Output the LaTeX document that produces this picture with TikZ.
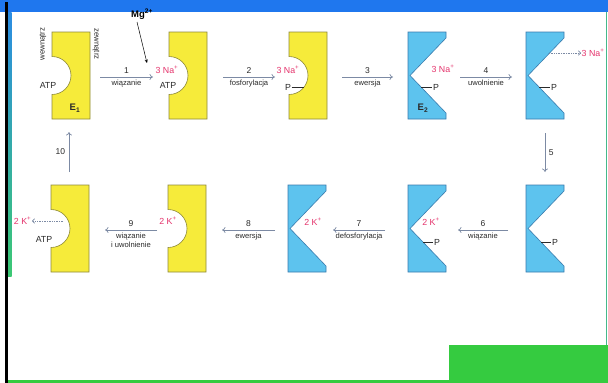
\documentclass[tikz,border=0pt]{standalone}
\usepackage{fontspec}
\setmainfont{Liberation Sans}
\usetikzlibrary{arrows.meta}

\definecolor{pumpyellow}{HTML}{F6EB3A}
\definecolor{yedge}{HTML}{8E8A3C}
\definecolor{pumpblue}{HTML}{5DC3EE}
\definecolor{bedge}{HTML}{3A7CAE}
\definecolor{arrowgray}{HTML}{7C8AA4}
\definecolor{ionpink}{HTML}{E5336C}
\definecolor{labelgray}{HTML}{2A2A2A}
\definecolor{bandblue}{HTML}{1F77EE}
\definecolor{bandgreen}{HTML}{35CB40}
\definecolor{stripblue}{HTML}{2B8CE2}
\definecolor{stripgreen}{HTML}{3CC873}
\definecolor{edgeteal}{HTML}{45B88A}

\tikzset{
  ypump/.style={fill=pumpyellow, draw=yedge, line width=0.6pt},
  bpump/.style={fill=pumpblue, draw=bedge, line width=0.6pt},
  flow/.style={draw=arrowgray, line width=0.7pt, -{To[length=3.5pt,width=6pt]}},
  release/.style={draw=arrowgray, densely dotted, line width=0.7pt, -{To[length=3pt,width=5pt]}},
  ion/.style={text=ionpink, font=\fontsize{8.8}{10}\selectfont, inner sep=0.5pt},
  mol/.style={text=labelgray, font=\fontsize{8.8}{10}\selectfont, inner sep=0.5pt},
  lbl/.style={text=labelgray, font=\fontsize{7.6}{9}\selectfont, inner sep=0.5pt},
  num/.style={text=labelgray, font=\fontsize{8.5}{9}\selectfont, inner sep=0.5pt},
  side/.style={text=labelgray, font=\fontsize{7.8}{8}\selectfont, inner sep=0.5pt},
  bond/.style={draw=labelgray, line width=0.6pt},
}

% yellow conformation (E1): block with a round pocket on its left side
\newcommand{\YellowPump}[2]{%
  \path[ypump] (#1,#2) -- (#1+38,#2) -- (#1+38,#2+87) -- (#1,#2+87) -- (#1,#2+62.5)
    .. controls (#1+10.5,#2+62.5) and (#1+19,#2+54) .. (#1+19,#2+43.5)
    .. controls (#1+19,#2+33) and (#1+10.5,#2+24.5) .. (#1,#2+24.5) -- cycle;}
% blue conformation (E2): block with a V-shaped cleft open to the right
\newcommand{\BluePump}[2]{%
  \path[bpump] (#1,#2) -- (#1+38,#2) -- (#1+38,#2+6) -- (#1+2,#2+43.5)
    -- (#1+38,#2+81) -- (#1+38,#2+87) -- (#1,#2+87) -- cycle;}

\begin{document}
\begin{tikzpicture}[x=1pt,y=-1pt]
\useasboundingbox (0,0) rectangle (608,383);

% frame
\fill[white] (0,0) rectangle (608,383);
\fill[bandblue] (0,0) rectangle (608,12);
\shade[top color=stripblue, bottom color=stripgreen] (8,12) rectangle (11.5,276);
\fill[edgeteal] (605.8,12) rectangle (607,345);
\fill[bandgreen] (8,379.5) rectangle (608,383);
\fill[bandgreen] (449,345) rectangle (608,383);
\fill[black] (5,2) rectangle (7.5,383);

% ---------- upper row ----------
\YellowPump{52}{32}
\YellowPump{169}{32}
\YellowPump{289}{32}
\BluePump{408}{32}
\BluePump{526}{32}

\node[side, rotate=90] (inside) at (43,44) {wewnątrz};
\node[side, rotate=-90] (outside) at (96,44) {zewnątrz};
\node[mol] (atp1) at (48,85) {ATP};
\node[mol, font=\fontsize{9.5}{10}\selectfont\bfseries] (e1) at (75,108) {E\textsubscript{1}};

\node[font=\fontsize{9.5}{10}\selectfont\bfseries, inner sep=0.5pt] (mg) at (142,14) {Mg\textsuperscript{2+}};
\coordinate (mgtip) at (147,63);
\draw[black, line width=0.5pt, -{Stealth[length=3.5pt,width=3pt]}] (137,22) -- (mgtip);

\node[ion] (na2) at (167,70) {3 Na\textsuperscript{+}};
\node[mol] (atp2) at (168,85) {ATP};

\node[ion] (na3) at (288,70) {3 Na\textsuperscript{+}};
\node[mol] (p3) at (288,87) {P};
\coordinate (p3b) at (304,87);
\draw[bond] (p3.east) -- (p3b);

\node[ion] (na4) at (443,69) {3 Na\textsuperscript{+}};
\node[mol] (p4) at (436,87) {P};
\coordinate (p4b) at (421,87);
\draw[bond] (p4b) -- (p4.west);
\node[mol, font=\fontsize{9.5}{10}\selectfont\bfseries] (e2) at (423,108) {E\textsubscript{2}};

\coordinate (na5s) at (549,53);
\node[ion, anchor=west] (na5) at (581,53) {3 Na\textsuperscript{+}};
\draw[release] (na5s) -- (na5.west);
\node[mol] (p5) at (554,87) {P};
\coordinate (p5b) at (539,87);
\draw[bond] (p5b) -- (p5.west);

% upper arrows
\coordinate (a1s) at (100,77); \coordinate (a1e) at (153,77);
\coordinate (a2s) at (223,77); \coordinate (a2e) at (275,77);
\coordinate (a3s) at (342,77); \coordinate (a3e) at (393,77);
\coordinate (a4s) at (460,77); \coordinate (a4e) at (512,77);
\draw[flow] (a1s) -- node[num, above=3pt] (n1) {1} node[lbl, below=2pt] (t1) {wiązanie} (a1e);
\draw[flow] (a2s) -- node[num, above=3pt] (n2) {2} node[lbl, below=2pt] (t2) {fosforylacja} (a2e);
\draw[flow] (a3s) -- node[num, above=3pt] (n3) {3} node[lbl, below=2pt] (t3) {ewersja} (a3e);
\draw[flow] (a4s) -- node[num, above=3pt] (n4) {4} node[lbl, below=2pt] (t4) {uwolnienie} (a4e);

% vertical arrows
\coordinate (a5s) at (545,133); \coordinate (a5e) at (545,172);
\draw[flow] (a5s) -- node[num, right=3pt] (n5) {5} (a5e);
\coordinate (a10s) at (69,172); \coordinate (a10e) at (69,132);
\draw[flow] (a10s) -- node[num, left=3pt] (n10) {10} (a10e);

% ---------- lower row ----------
\YellowPump{51}{185}
\YellowPump{168}{185}
\BluePump{288}{185}
\BluePump{408}{185}
\BluePump{526}{185}

\node[ion, anchor=east] (k1) at (32,221) {2 K\textsuperscript{+}};
\coordinate (k1s) at (63,221);
\draw[release] (k1s) -- (k1.east);
\node[mol] (atp6) at (44,239) {ATP};

\node[ion] (k2) at (168,221) {2 K\textsuperscript{+}};
\node[ion] (k3) at (313,222) {2 K\textsuperscript{+}};
\node[ion] (k4) at (431,222) {2 K\textsuperscript{+}};
\node[mol] (p9) at (437,242) {P};
\coordinate (p9b) at (423,242);
\draw[bond] (p9b) -- (p9.west);
\node[mol] (p10) at (555,242) {P};
\coordinate (p10b) at (541,242);
\draw[bond] (p10b) -- (p10.west);

% lower arrows
\coordinate (a6s) at (508,230); \coordinate (a6e) at (458,230);
\coordinate (a7s) at (385,230); \coordinate (a7e) at (333,230);
\coordinate (a8s) at (275,230); \coordinate (a8e) at (222,230);
\coordinate (a9s) at (157,230); \coordinate (a9e) at (105,230);
\draw[flow] (a6s) -- node[num, above=3pt] (n6) {6} node[lbl, below=2pt] (t6) {wiązanie} (a6e);
\draw[flow] (a7s) -- node[num, above=3pt] (n7) {7} node[lbl, below=2pt] (t7) {defosforylacja} (a7e);
\draw[flow] (a8s) -- node[num, above=3pt] (n8) {8} node[lbl, below=2pt] (t8) {ewersja} (a8e);
\draw[flow] (a9s) -- node[num, above=3pt] (n9) {9} node[lbl, below=2pt, align=center] (t9) {wiązanie\\i uwolnienie} (a9e);

\end{tikzpicture}
\end{document}
